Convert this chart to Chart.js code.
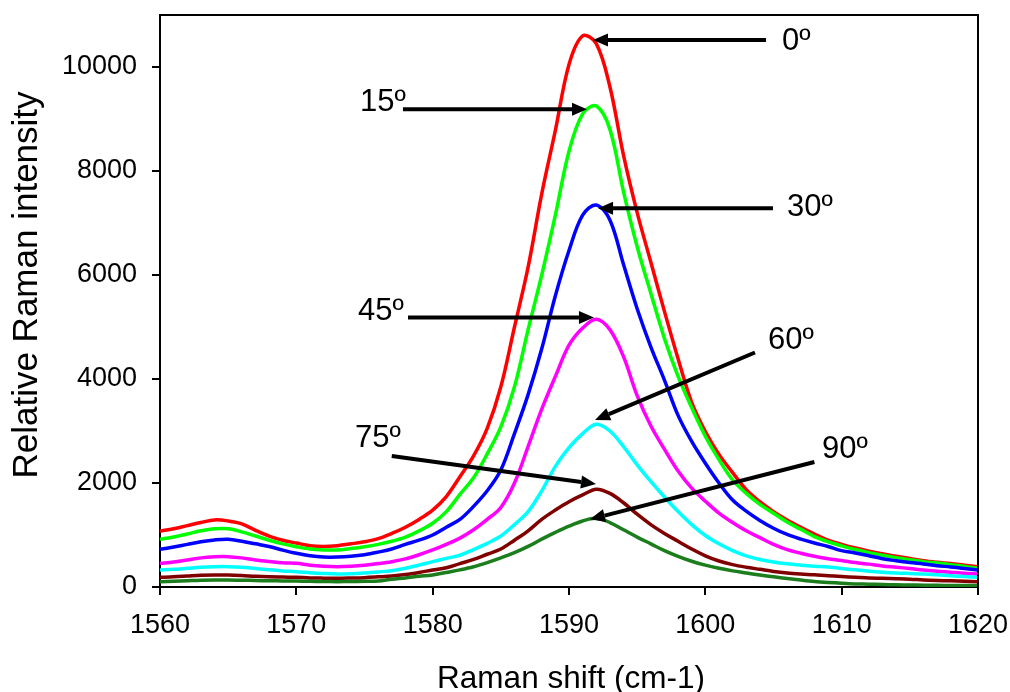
<!DOCTYPE html>
<html>
<head>
<meta charset="utf-8">
<title>Raman spectra vs. polarization angle</title>
<script src="https://cdn.jsdelivr.net/npm/chart.js@4.4.1/dist/chart.umd.min.js"></script>
<style>
  html, body { margin: 0; padding: 0; background: #ffffff; }
  #wrap { width: 1010px; height: 692px; }
</style>
</head>
<body>
<div id="wrap"><canvas id="c" width="1010" height="692"></canvas></div>
<script>
// Raman shift (cm-1)
const shift = [
  1560, 1561, 1562, 1563, 1564, 1565, 1566, 1567, 1568, 1569,
  1570, 1571, 1572, 1573, 1574, 1575, 1576, 1577, 1578, 1579,
  1580, 1581, 1582, 1583, 1584, 1585, 1586, 1587, 1588, 1589,
  1590, 1591, 1592, 1593, 1594, 1595, 1596, 1597, 1598, 1599,
  1600, 1601, 1602, 1603, 1604, 1605, 1606, 1607, 1608, 1609,
  1610, 1611, 1612, 1613, 1614, 1615, 1616, 1617, 1618, 1619,
  1620
];

// Relative Raman intensity for each polarization angle
const deg0 = [
  1075, 1120, 1180, 1240, 1290, 1270, 1215, 1090, 980, 900,
  845, 795, 780, 795, 830, 870, 930, 1030, 1150, 1300,
  1480, 1740, 2120, 2520, 3050, 3850, 5000, 6150, 7560, 8780,
  10050, 10600, 10450, 9620, 8300, 7200, 6250, 5300, 4390, 3550,
  2990, 2550, 2200, 1870, 1640, 1450, 1290, 1150, 1020, 900,
  820, 750, 690, 640, 590, 550, 506, 475, 450, 420,
  391
];
const deg15 = [
  917, 960, 1020, 1080, 1120, 1120, 1060, 980, 900, 830,
  775, 730, 712, 712, 740, 775, 820, 880, 960, 1080,
  1225, 1450, 1780, 2100, 2560, 3080, 3850, 4950, 6000, 7150,
  8380, 9100, 9250, 8800, 7600, 6544, 5650, 4780, 4050, 3450,
  2900, 2450, 2058, 1800, 1590, 1420, 1250, 1110, 970, 870,
  790, 720, 660, 610, 565, 525, 487, 460, 430, 395,
  360
];
const deg30 = [
  724, 770, 820, 870, 905, 917, 880, 830, 780, 710,
  648, 600, 575, 575, 590, 620, 670, 730, 820, 900,
  1000, 1150, 1300, 1550, 1850, 2250, 2950, 3700, 4580, 5600,
  6470, 7150, 7346, 7058, 6200, 5350, 4620, 3980, 3300, 2800,
  2380, 2000, 1673, 1460, 1280, 1130, 1010, 920, 845, 780,
  700, 655, 600, 545, 505, 470, 442, 410, 385, 355,
  327
];
const deg45 = [
  455, 480, 520, 560, 580, 583, 560, 520, 490, 465,
  455, 420, 400, 391, 400, 420, 450, 487, 540, 620,
  712, 820, 940, 1100, 1300, 1530, 2000, 2700, 3420, 4050,
  4650, 4980, 5150, 4950, 4429, 3680, 3100, 2650, 2230, 1900,
  1650, 1420, 1240, 1080, 950, 820, 720, 650, 590, 545,
  510, 470, 440, 405, 380, 355, 327, 305, 285, 265,
  250
];
const deg60 = [
  327, 340, 360, 380, 390, 391, 380, 355, 330, 310,
  295, 275, 260, 250, 255, 270, 290, 314, 360, 420,
  487, 550, 610, 720, 840, 980, 1200, 1450, 1850, 2320,
  2680, 2950, 3130, 3000, 2700, 2350, 2030, 1730, 1450, 1200,
  990, 830, 700, 600, 530, 480, 445, 420, 400, 385,
  355, 330, 305, 285, 270, 260, 250, 235, 218, 200,
  186
];
const deg75 = [
  186, 195, 210, 225, 231, 230, 220, 205, 195, 190,
  186, 175, 170, 167, 172, 180, 195, 212, 240, 280,
  327, 370, 450, 530, 630, 730, 900, 1080, 1300, 1480,
  1640, 1770, 1880, 1800, 1620, 1400, 1200, 1030, 880, 730,
  600, 500, 430, 380, 340, 300, 270, 250, 235, 215,
  200, 188, 175, 168, 160, 150, 135, 125, 118, 110,
  103
];
const deg90 = [
  103, 110, 120, 130, 135, 135, 130, 125, 120, 117,
  115, 110, 105, 103, 105, 110, 115, 150, 175, 205,
  231, 280, 330, 390, 470, 560, 660, 780, 920, 1050,
  1170, 1270, 1320, 1240, 1100, 960, 830, 700, 590, 495,
  420, 360, 310, 270, 230, 195, 165, 135, 108, 88,
  72, 60, 55, 48, 42, 38, 35, 32, 30, 28,
  26
];

const seriesNames = ['0º', '15º', '30º', '45º', '60º', '75º', '90º'];
const seriesValues = [deg0, deg15, deg30, deg45, deg60, deg75, deg90];
const seriesColors = ['#ff0000', '#00ff00', '#0000ff', '#ff00ff', '#00ffff', '#800000', '#1b7d1b'];

// Axis ranges and tick labels
const xRange = [1560, 1620];
const xTicks = [1560, 1570, 1580, 1590, 1600, 1610, 1620];
const yRange = [0, 11000];
const yTicks = [0, 2000, 4000, 6000, 8000, 10000];

// Callout arrows in data coordinates: label anchor, arrow tail, arrow tip
const callouts = [
  { text: '0º',  lx: 1605.62, ly: 10490, fx: 1604.45, fy: 10519, tx: 1591.76, ty: 10519 },
  { text: '15º', lx: 1574.67, ly: 9327,  fx: 1577.82, fy: 9187,  tx: 1591.32, ty: 9187 },
  { text: '30º', lx: 1605.99, ly: 7308,  fx: 1604.96, fy: 7283,  tx: 1592.13, ty: 7283 },
  { text: '45º', lx: 1574.52, ly: 5308,  fx: 1578.19, fy: 5183,  tx: 1591.83, ty: 5183 },
  { text: '60º', lx: 1604.60, ly: 4750,  fx: 1603.64, fy: 4510,  tx: 1591.91, ty: 3212 },
  { text: '75º', lx: 1574.30, ly: 2865,  fx: 1577.00, fy: 2519,  tx: 1591.98, ty: 1981 },
  { text: '90º', lx: 1608.56, ly: 2654,  fx: 1608.00, fy: 2404,  tx: 1591.54, ty: 1302 }
];

const FONT = '"Liberation Sans", Arial, sans-serif';

const datasets = seriesNames.map((name, i) => ({
  label: name,
  data: shift.map((x, j) => ({ x: x, y: seriesValues[i][j] })),
  borderColor: seriesColors[i],
  backgroundColor: seriesColors[i],
  borderWidth: 3.5,
  pointRadius: 0,
  tension: 0.35,
  fill: false,
  order: seriesNames.length - i
}));

// Frame around the plot area plus the axis titles
const framePlugin = {
  id: 'frame',
  afterDatasetsDraw(chart) {
    const { ctx, chartArea: a } = chart;
    ctx.save();
    ctx.strokeStyle = '#000';
    ctx.lineWidth = 2;
    ctx.beginPath();
    ctx.moveTo(a.left, a.top);
    ctx.lineTo(a.right, a.top);
    ctx.lineTo(a.right, a.bottom);
    ctx.stroke();

    ctx.fillStyle = '#000';
    ctx.textAlign = 'center';
    ctx.textBaseline = 'middle';
    ctx.font = '31.5px ' + FONT;
    ctx.fillText('Raman shift (cm-1)', (a.left + a.right) / 2 + 2, 679);

    ctx.save();
    ctx.font = '35px ' + FONT;
    ctx.translate(27, (a.top + a.bottom) / 2 - 16);
    ctx.rotate(-Math.PI / 2);
    ctx.fillText('Relative Raman intensity', 0, 0);
    ctx.restore();
    ctx.restore();
  }
};

// Angle labels with arrows pointing at each peak
const calloutPlugin = {
  id: 'callouts',
  afterDraw(chart) {
    const { ctx } = chart;
    const xs = chart.scales.x, ys = chart.scales.y;
    ctx.save();
    ctx.fillStyle = '#000';
    ctx.strokeStyle = '#000';
    ctx.font = '31px ' + FONT;
    ctx.textAlign = 'left';
    ctx.textBaseline = 'middle';
    callouts.forEach(c => {
      ctx.fillText(c.text, xs.getPixelForValue(c.lx), ys.getPixelForValue(c.ly));
      const x0 = xs.getPixelForValue(c.fx), y0 = ys.getPixelForValue(c.fy);
      const x1 = xs.getPixelForValue(c.tx), y1 = ys.getPixelForValue(c.ty);
      const ang = Math.atan2(y1 - y0, x1 - x0);
      const headLen = 15, headHalf = 6.5;
      const bx = x1 - headLen * Math.cos(ang), by = y1 - headLen * Math.sin(ang);
      ctx.lineWidth = 4;
      ctx.beginPath();
      ctx.moveTo(x0, y0);
      ctx.lineTo(bx, by);
      ctx.stroke();
      ctx.beginPath();
      ctx.moveTo(x1, y1);
      ctx.lineTo(bx + headHalf * Math.sin(ang), by - headHalf * Math.cos(ang));
      ctx.lineTo(bx - headHalf * Math.sin(ang), by + headHalf * Math.cos(ang));
      ctx.closePath();
      ctx.fill();
    });
    ctx.restore();
  }
};

new Chart(document.getElementById('c'), {
  type: 'line',
  data: { datasets },
  options: {
    responsive: false,
    animation: false,
    events: [],
    layout: { padding: { top: 15, right: 32, left: 0, bottom: 0 } },
    plugins: {
      legend: { display: false },
      tooltip: { enabled: false },
      title: { display: false }
    },
    scales: {
      x: {
        type: 'linear',
        min: xRange[0],
        max: xRange[1],
        afterBuildTicks(scale) { scale.ticks = xTicks.map(v => ({ value: v })); },
        afterFit(scale) {
          scale.height = 105;
          scale.paddingLeft = 0;
          scale.paddingRight = 0;
        },
        border: { display: true, color: '#000', width: 2 },
        grid: { drawOnChartArea: false, drawTicks: true, tickLength: 8, color: '#000', lineWidth: 2 },
        ticks: {
          color: '#000',
          padding: 14,
          maxRotation: 0,
          autoSkip: false,
          callback: v => String(v),
          font: { family: FONT, size: 27 }
        }
      },
      y: {
        type: 'linear',
        min: yRange[0],
        max: yRange[1],
        afterBuildTicks(scale) { scale.ticks = yTicks.map(v => ({ value: v })); },
        afterFit(scale) {
          scale.width = 160;
          scale.paddingTop = 0;
          scale.paddingBottom = 0;
        },
        border: { display: true, color: '#000', width: 2 },
        grid: { drawOnChartArea: false, drawTicks: true, tickLength: 8, color: '#000', lineWidth: 2 },
        ticks: {
          color: '#000',
          padding: 15,
          autoSkip: false,
          callback: v => String(v),
          font: { family: FONT, size: 27 }
        }
      }
    }
  },
  plugins: [framePlugin, calloutPlugin]
});
</script>
</body>
</html>
